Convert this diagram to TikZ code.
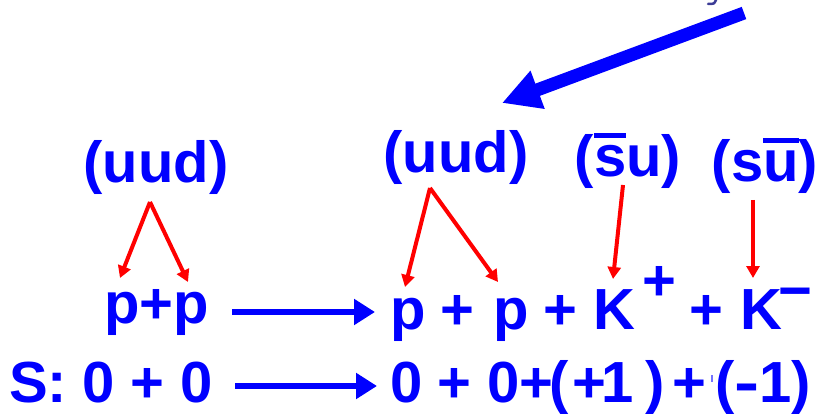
\documentclass[tikz,border=0pt]{standalone}
\usepackage{fontspec}
\setmainfont{Liberation Sans}
\usetikzlibrary{arrows.meta}

\definecolor{qblue}{RGB}{0,0,255}
\definecolor{qred}{RGB}{255,0,0}
\definecolor{navy}{RGB}{60,60,150}

% bar over a single quark letter (antiquark)
\newcommand\antiq[1]{\vbox{\hrule height 5pt\kern 8pt\hbox{#1}}}

\begin{document}
\begin{tikzpicture}[x=1pt,y=-1pt,
  tok/.style={anchor=base west, inner sep=0pt, text=qblue,
              font=\bfseries\fontsize{58}{60}\selectfont},
  lbl/.style={anchor=base, inner sep=0pt, text=qblue,
              font=\bfseries\fontsize{58}{60}\selectfont},
  quarkarrow/.style={draw=qred, line width=4pt,
              -{Triangle[length=12pt,width=13pt]}},
  reaction/.style={draw=qblue, line width=5.5pt,
              -{Triangle[length=21pt,width=25pt]}},
  pointer/.style={draw=qblue, line width=13pt,
              -{Triangle[length=38pt,width=38pt]}}]
\useasboundingbox (0,0) rectangle (822,414);

% fragment of a caption above the picture
\draw[navy, line width=2.5pt, line cap=round] (716,0) .. controls (714,4) .. (708,4);

% big pointer
\coordinate (ptail) at (744,13);
\coordinate (ptip) at (502,103);
\draw[pointer] (ptail) -- (ptip);

% quark content labels
\node[lbl] (q1) at (156,183) {(uud)};
\node[lbl] (q2) at (456,173) {(uud)};
\node[lbl] (q3) at (628,177) {(\antiq{s}u)};
\node[lbl] (q4) at (765,182) {(s\antiq{u})};

% reaction, first line
\node[tok] (pp) at (104,323) {p+p};
\node[tok] (p1) at (390,329) {p};
\node[tok] (pl1) at (440,329) {+};
\node[tok] (p2) at (493,329) {p};
\node[tok] (pl2) at (543,329) {+};
\node[tok] (k1) at (593,329) {K};
\node[tok] (kp) at (642,300) {+};
\node[tok] (pl3) at (689,329) {+};
\node[tok] (k2) at (740,329) {K};
\node[tok] (km) at (778,310) {\char"2212};

% strangeness line
\node[tok] (s0) at (9,402) {S:};
\node[tok] (sa) at (82,402) {0};
\node[tok] (sb) at (130,402) {+};
\node[tok] (sc) at (180,402) {0};
\node[tok] (sd) at (390,402) {0};
\node[tok] (se) at (437,402) {+};
\node[tok] (sf) at (487,402) {0};
\node[tok] (sg) at (519,402) {+};
\node[tok] (sh) at (549,402) {(};
\node[tok] (si) at (572,402) {+};
\node[tok] (sj) at (601,402) {1};
\node[tok] (sk) at (645,402) {)};
\node[tok] (sl) at (672,402) {+};
\node[tok] (sm) at (715,402) {(\scalebox{1.3}[1]{-}1)};
\fill[qblue!55] (711,375) rectangle (713,382);

% reaction arrows
\coordinate (r1a) at (232,312);
\coordinate (r1b) at (375,312);
\coordinate (r2a) at (235,386);
\coordinate (r2b) at (377,386);
\draw[reaction] (r1a) -- (r1b);
\draw[reaction] (r2a) -- (r2b);

% quark arrows
\coordinate (q1f) at (150,202);
\coordinate (q1l) at (120,278);
\coordinate (q1r) at (188,282);
\coordinate (q2f) at (430,188);
\coordinate (q2l) at (405,287);
\coordinate (q2r) at (498,282);
\coordinate (q3f) at (623,185);
\coordinate (q3t) at (613,279);
\coordinate (q4f) at (753,200);
\coordinate (q4t) at (753,278);
\draw[quarkarrow] (q1f) -- (q1l);
\draw[quarkarrow] (q1f) -- (q1r);
\draw[quarkarrow] (q2f) -- (q2l);
\draw[quarkarrow] (q2f) -- (q2r);
\draw[quarkarrow] (q3f) -- (q3t);
\draw[quarkarrow] (q4f) -- (q4t);
\end{tikzpicture}
\end{document}
